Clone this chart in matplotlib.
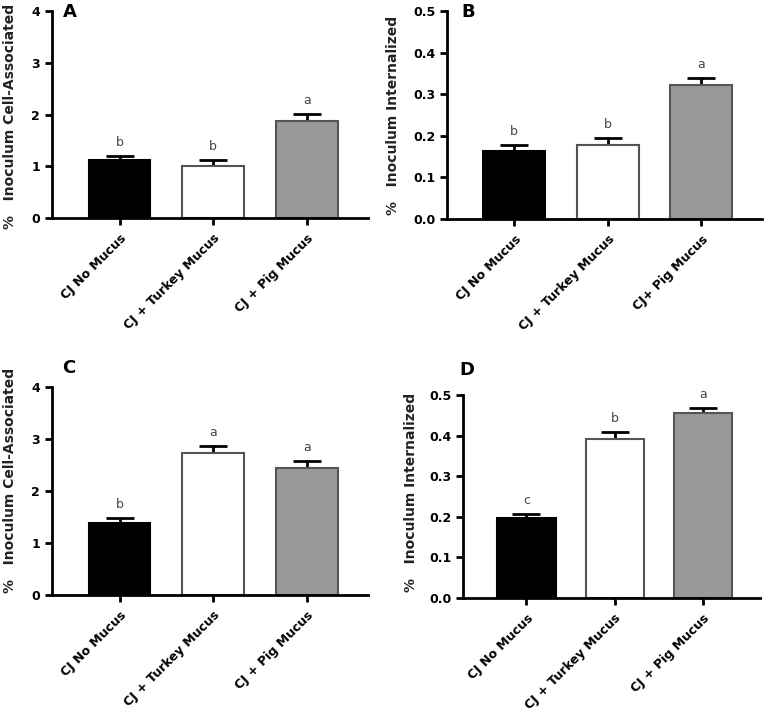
import matplotlib.pyplot as plt

groups = ["CJ No Mucus", "CJ + Turkey Mucus", "CJ + Pig Mucus"]
groups_b = ["CJ No Mucus", "CJ + Turkey Mucus", "CJ+ Pig Mucus"]

a_mean = [1.12, 1.01, 1.87]
a_err = [0.07, 0.11, 0.14]
a_sig = ["b", "b", "a"]

b_mean = [0.163, 0.179, 0.321]
b_err = [0.014, 0.016, 0.018]
b_sig = ["b", "b", "a"]

c_mean = [1.38, 2.74, 2.44]
c_err = [0.11, 0.12, 0.14]
c_sig = ["b", "a", "a"]

d_mean = [0.198, 0.392, 0.456]
d_err = [0.008, 0.016, 0.011]
d_sig = ["c", "b", "a"]

fills = ["black", "white", "#999999"]
edges = ["black", "#555555", "#555555"]

fig = plt.figure(figsize=(7.67, 7.16), dpi=100)
W, H = 767, 716


def box(l, t, r, b):
    return [l / W, 1 - b / H, (r - l) / W, (b - t) / H]


# letter, axes box, values, errors, stats letters, x labels, y label, ymax, yticks, format,
# panel letter position, y label coords
panels = [
    ("A", box(52, 11, 368, 218), a_mean, a_err, a_sig, groups,
     "%   Inoculum Cell-Associated", 4, [0, 1, 2, 3, 4], "{:.0f}", (63, 12), (-0.112, 0.49)),
    ("B", box(447, 11, 762, 219), b_mean, b_err, b_sig, groups_b,
     "%   Inoculum Internalized", 0.5, [0, 0.1, 0.2, 0.3, 0.4, 0.5], "{:.1f}", (461, 12), (-0.15, 0.5)),
    ("C", box(52, 387, 368, 595), c_mean, c_err, c_sig, groups,
     "%   Inoculum Cell-Associated", 4, [0, 1, 2, 3, 4], "{:.0f}", (62, 368), (-0.112, 0.55)),
    ("D", box(463, 395, 760, 598), d_mean, d_err, d_sig, groups,
     "%   Inoculum Internalized", 0.5, [0, 0.1, 0.2, 0.3, 0.4, 0.5], "{:.1f}", (459, 370), (-0.15, 0.52)),
]

for letter, pos, mean, err, sig, labels, ylab, ymax, yt, fmt, lpos, lab_xy in panels:
    ax = fig.add_axes(pos)
    x = range(len(mean))
    ax.bar(x, mean, width=0.66, color=fills, edgecolor=edges, linewidth=1.5, zorder=2)
    ax.errorbar(x, mean, yerr=[[0] * len(err), err], fmt="none", ecolor="black",
                elinewidth=2, capsize=10, capthick=2, zorder=1)
    for i in x:
        ax.annotate(sig[i], (i, mean[i] + err[i]), xytext=(0, 5), textcoords="offset points",
                    ha="center", va="bottom", fontsize=9, color="#444444")
    ax.set_xlim(-0.72, 2.65)
    ax.set_ylim(0, ymax)
    ax.set_yticks(yt)
    ax.set_yticklabels([fmt.format(v) for v in yt], fontsize=9, fontweight="bold")
    ax.set_xticks(list(x))
    ax.set_xticklabels(labels, rotation=45, ha="right", rotation_mode="anchor",
                       fontsize=9, fontweight="bold")
    ax.set_ylabel(ylab, fontsize=10, fontweight="bold", color="#222222")
    ax.yaxis.set_label_coords(*lab_xy)
    for s in ["top", "right"]:
        ax.spines[s].set_visible(False)
    for s in ["left", "bottom"]:
        ax.spines[s].set_linewidth(2)
    ax.tick_params(width=2, length=5)
    ax.tick_params(axis="x", pad=5)
    fig.text(lpos[0] / W, 1 - lpos[1] / H, letter, fontsize=13, fontweight="bold",
             va="center", ha="left")

fig.savefig("out.png", dpi=100)
